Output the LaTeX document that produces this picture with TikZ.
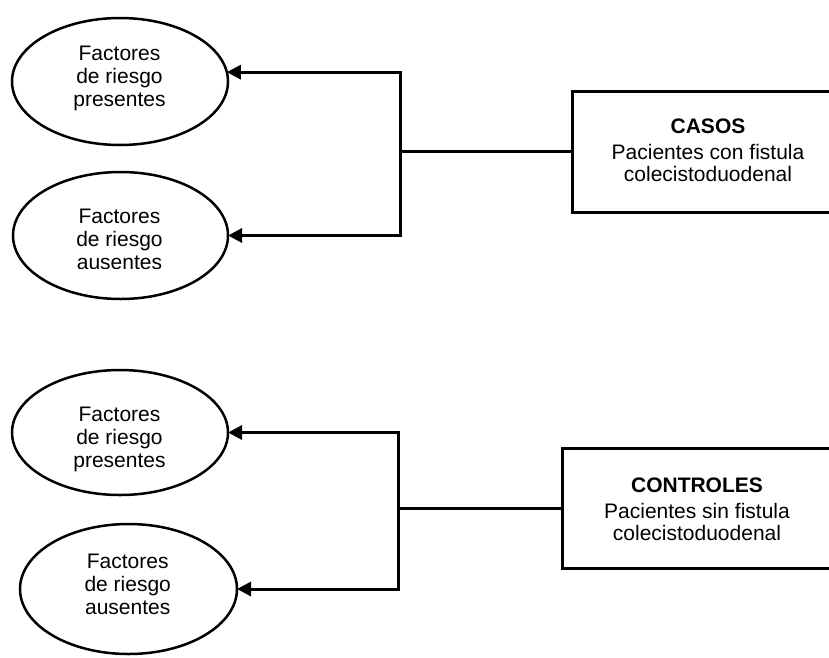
\documentclass[tikz,border=0pt]{standalone}
\usepackage{fontspec}
\setmainfont{Liberation Sans}
\usetikzlibrary{shapes.geometric,arrows.meta}
\begin{document}
\begin{tikzpicture}[x=1pt,y=-1pt,
  oval/.style={ellipse,draw,line width=2.5pt,inner sep=0pt,outer sep=0pt},
  etext/.style={anchor=base,align=center,inner sep=0pt,font=\fontsize{21}{23}\selectfont},
  casebox/.style={draw,line width=3pt,rectangle,inner sep=0pt,outer sep=0pt,anchor=north west},
  btext/.style={anchor=base,align=center,inner sep=0pt,font=\fontsize{21}{22}\selectfont},
  conn/.style={line width=3pt},
  arr/.style={conn,-{Triangle[length=14pt,width=14pt]}}]
\useasboundingbox (0,0) rectangle (829,657);
\clip (0,0) rectangle (829,657);

% top group
\node[oval,minimum width=216pt,minimum height=127pt] (e1) at (120,81.5) {};
\node[etext] (te1) at (119.5,106) {Factores\\de riesgo\\presentes};
\node[oval,minimum width=215pt,minimum height=127pt] (e2) at (120.5,235.5) {};
\begin{scope}
\clip (0,0) rectangle (300,268);
\node[etext] (te2) at (119.5,269.5) {Factores\\de riesgo\\ausentes};
\end{scope}
\node[casebox,minimum width=300pt,minimum height=121pt] (c1) at (572,91) {};
\node[btext] (tc1) at (708,181) {\textbf{CASOS}\\[4pt]Pacientes con fistula\\colecistoduodenal};
\coordinate (j1) at (c1.west -| 400,0);
\draw[conn] (c1.west) -- (j1);
\draw[arr] (j1) |- (e1.5);
\draw[arr] (j1) |- (e2.east);

% bottom group
\node[oval,minimum width=216pt,minimum height=125pt] (e3) at (120,432.5) {};
\node[etext] (te3) at (119.5,467.5) {Factores\\de riesgo\\presentes};
\node[oval,minimum width=217pt,minimum height=130pt] (e4) at (128.5,589) {};
\node[etext] (te4) at (127.7,614) {Factores\\de riesgo\\ausentes};
\node[casebox,minimum width=300pt,minimum height=120pt] (c2) at (562,448) {};
\node[btext] (tc2) at (697,540) {\textbf{CONTROLES}\\[4pt]Pacientes sin fistula\\colecistoduodenal};
\coordinate (j2) at (c2.west -| 398,0);
\draw[conn] (c2.west) -- (j2);
\draw[arr] (j2) |- (e3.east);
\draw[arr] (j2) |- (e4.east);
\end{tikzpicture}
\end{document}
